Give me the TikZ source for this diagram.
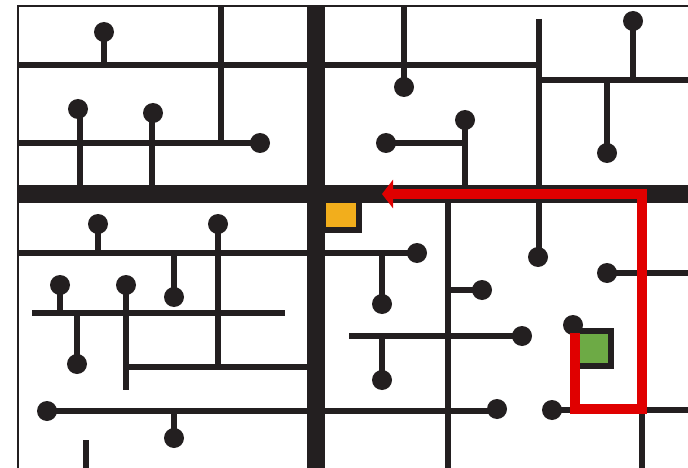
\documentclass[tikz,border=0pt]{standalone}
\usetikzlibrary{arrows.meta}
\definecolor{ink}{HTML}{231F20}
\definecolor{route}{HTML}{E00000}
\definecolor{goal}{HTML}{6DAA45}
\definecolor{start}{HTML}{F2AE1C}
\newcommand\mdot[2]{\fill[ink] (#1,#2) circle[radius=10pt];}
\begin{document}
\begin{tikzpicture}[x=1pt,y=-1pt,
  wire/.style={draw=ink,line width=6.5pt},
  road/.style={draw=ink,line width=18pt},
  framel/.style={draw=ink,line width=2.5pt},
  path/.style={draw=route,line width=10pt,line join=miter}]
\useasboundingbox (0,0) rectangle (688,468);
\fill[white] (0,0) rectangle (688,468);
% frame
\draw[framel] (18,468) -- (18,6) -- (688,6);
% main roads
\draw[road] (316,6) -- (316,468);
\draw[road] (18,194) -- (688,194);
% top-left
\draw[wire] (18,65) -- (539,65);
\draw[wire] (104,65) -- (104,32); \mdot{104}{32}
\draw[wire] (221,6) -- (221,143);
\draw[wire] (18,143) -- (260,143); \mdot{260}{143}
\draw[wire] (80,185) -- (80,109); \mdot{78}{109}
\draw[wire] (152,185) -- (152,113); \mdot{153}{113}
% top-right
\draw[wire] (404,6) -- (404,87); \mdot{404}{87}
\draw[wire] (539,19) -- (539,257); \mdot{538}{257}
\draw[wire] (539,80) -- (688,80);
\draw[wire] (633,80) -- (633,21); \mdot{633}{21}
\draw[wire] (607,80) -- (607,153); \mdot{607}{153}
\draw[wire] (465,185) -- (465,120); \mdot{465}{120}
\draw[wire] (386,143) -- (465,143); \mdot{386}{143}
% bottom-left
\draw[wire] (98,253) -- (98,224); \mdot{98}{224}
\draw[wire] (218,224) -- (218,367); \mdot{218}{224}
\draw[wire] (18,253) -- (417,253); \mdot{417}{253}
\draw[wire] (174,253) -- (174,297); \mdot{174}{297}
\draw[wire] (32,313) -- (285,313);
\draw[wire] (60,313) -- (60,285); \mdot{60}{285}
\draw[wire] (126,285) -- (126,390); \mdot{126}{285}
\draw[wire] (77,313) -- (77,364); \mdot{77}{364}
\draw[wire] (123,367) -- (307,367);
\draw[wire] (47,411) -- (497,411); \mdot{47}{411} \mdot{497}{409}
\draw[wire] (174,411) -- (174,438); \mdot{174}{438}
\draw[wire] (86,440) -- (86,468);
% bottom-right
\draw[wire] (382,253) -- (382,304); \mdot{382}{304}
\draw[wire] (448,203) -- (448,468);
\draw[wire] (448,290) -- (482,290); \mdot{482}{290}
\draw[wire] (349,336) -- (522,336); \mdot{522}{336}
\draw[wire] (382,336) -- (382,380); \mdot{382}{380}
\draw[wire] (607,273) -- (688,273); \mdot{607}{273}
\draw[wire] (552,410) -- (575,410); \mdot{552}{410}
\draw[wire] (642,410) -- (688,410);
\draw[wire] (642,410) -- (642,468);
\mdot{573}{325}
% start and goal squares
\filldraw[fill=start,draw=ink,line width=6pt] (323,200) rectangle (359,230);
\fill[goal] (578,334) rectangle (609,364);
\draw[ink,line width=6pt,line join=miter] (578,331) -- (611,331) -- (611,366) -- (578,366);
% route
\draw[path,-{Triangle[length=11pt,width=28pt]}] (575,333) -- (575,409) -- (642,409) -- (642,194) -- (382,194);
\end{tikzpicture}
\end{document}
